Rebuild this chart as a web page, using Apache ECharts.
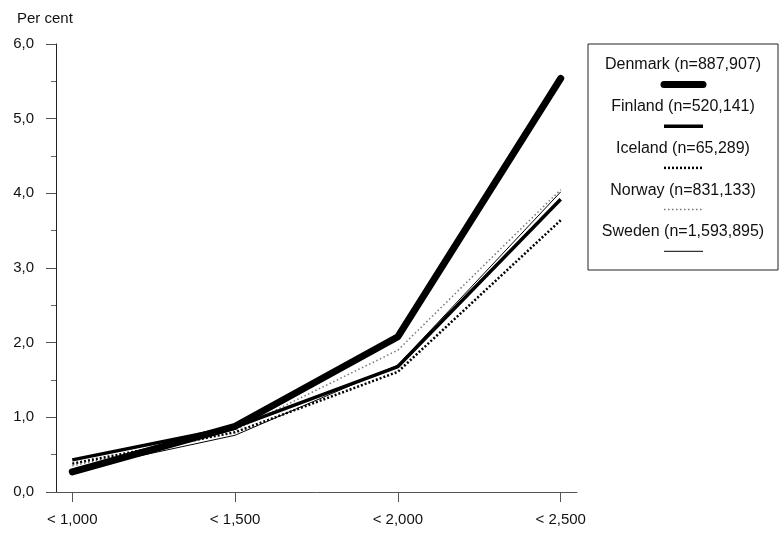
<!DOCTYPE html>
<html>
<head>
<meta charset="utf-8">
<script src="https://cdn.jsdelivr.net/npm/echarts@6/dist/echarts.min.js"></script>
<style>
  html, body { margin: 0; padding: 0; background: #fff; }
  #chart { width: 781px; height: 533px; }
</style>
</head>
<body>
<div id="chart"></div>
<script>
// categories (x axis)
const categories = ['< 1,000', '< 1,500', '< 2,000', '< 2,500']

// series names and values (per cent)
const seriesNames = [
  'Denmark (n=887,907)',
  'Finland (n=520,141)',
  'Iceland (n=65,289)',
  'Norway (n=831,133)',
  'Sweden (n=1,593,895)'
]
const denmark = [0.27, 0.88, 2.08, 5.54]
const finland = [0.43, 0.87, 1.68, 3.92]
const iceland = [0.38, 0.80, 1.61, 3.64]
const norway = [0.35, 0.83, 1.90, 4.05]
const sweden = [0.29, 0.76, 1.70, 4.02]
const seriesValues = [denmark, finland, iceland, norway, sweden]

// y axis tick values
const yTicks = [0, 1, 2, 3, 4, 5, 6]

// line styles per series
const lineStyles = [
  { color: '#000', width: 7, type: 'solid', cap: 'round' },
  { color: '#000', width: 3.5, type: 'solid', cap: 'butt' },
  { color: '#000', width: 2.5, type: [2, 2], cap: 'butt' },
  { color: '#777', width: 1.5, type: [1.5, 2.5], cap: 'butt' },
  { color: '#000', width: 1, type: 'solid', cap: 'butt' }
]

const FONT = 'Liberation Sans, Arial, Helvetica, sans-serif'

const chart = echarts.init(document.getElementById('chart'))

// legend drawn as graphic: text above line sample
const legendX = 588, legendY = 44, legendW = 190, legendH = 226
const legendItems = []
seriesNames.forEach((name, i) => {
  const cy = legendY + 21 + i * 41.7
  legendItems.push({
    type: 'text',
    style: {
      x: legendX + legendW / 2,
      y: cy,
      text: name,
      font: '16px ' + FONT,
      fill: '#111',
      align: 'center',
      verticalAlign: 'middle'
    }
  })
  const st = lineStyles[i]
  legendItems.push({
    type: 'line',
    shape: { x1: legendX + 76, y1: cy + 19.5, x2: legendX + 115, y2: cy + 19.5 },
    style: {
      stroke: st.color,
      lineWidth: st.width,
      lineDash: Array.isArray(st.type) ? st.type : null,
      lineCap: st.cap
    }
  })
})

const option = {
  animation: false,
  backgroundColor: '#fff',
  title: {
    text: 'Per cent',
    left: 12,
    top: 6,
    textStyle: { fontFamily: FONT, fontSize: 15, fontWeight: 'normal', color: '#111' }
  },
  grid: {
    left: 56,
    right: 204,
    top: 44,
    bottom: 41,
    containLabel: false
  },
  xAxis: {
    type: 'value',
    min: -0.1,
    max: 3.1,
    splitLine: { show: false },
    axisLine: { show: true, onZero: false, lineStyle: { color: '#555', width: 1 } },
    axisTick: {
      show: true,
      length: 10,
      customValues: categories.map((_, i) => i),
      lineStyle: { color: '#555' }
    },
    axisLabel: {
      customValues: categories.map((_, i) => i),
      formatter: (v) => categories[Math.round(v)],
      margin: 20,
      fontFamily: FONT,
      fontSize: 15,
      color: '#111'
    }
  },
  yAxis: {
    type: 'value',
    min: yTicks[0],
    max: yTicks[yTicks.length - 1],
    interval: 1,
    splitLine: { show: false },
    axisLine: { show: true, onZero: false, lineStyle: { color: '#222', width: 1 } },
    axisTick: { show: true, length: 10, lineStyle: { color: '#555' } },
    minorTick: { show: true, splitNumber: 2, length: 5, lineStyle: { color: '#666' } },
    axisLabel: {
      margin: 22,
      fontFamily: FONT,
      fontSize: 15,
      color: '#111',
      formatter: (v) => v.toFixed(1).replace('.', ',')
    }
  },
  series: seriesNames.map((name, i) => ({
    name: name,
    type: 'line',
    data: seriesValues[i].map((v, j) => [j, v]),
    showSymbol: false,
    symbol: 'none',
    z: 10 - i,
    lineStyle: {
      color: lineStyles[i].color,
      width: lineStyles[i].width,
      type: lineStyles[i].type,
      cap: lineStyles[i].cap
    }
  })),
  graphic: [
    {
      type: 'rect',
      shape: { x: legendX, y: legendY, width: legendW, height: legendH },
      style: { fill: '#fff', stroke: '#222', lineWidth: 1 }
    },
    ...legendItems
  ]
}

chart.setOption(option)
</script>
</body>
</html>
